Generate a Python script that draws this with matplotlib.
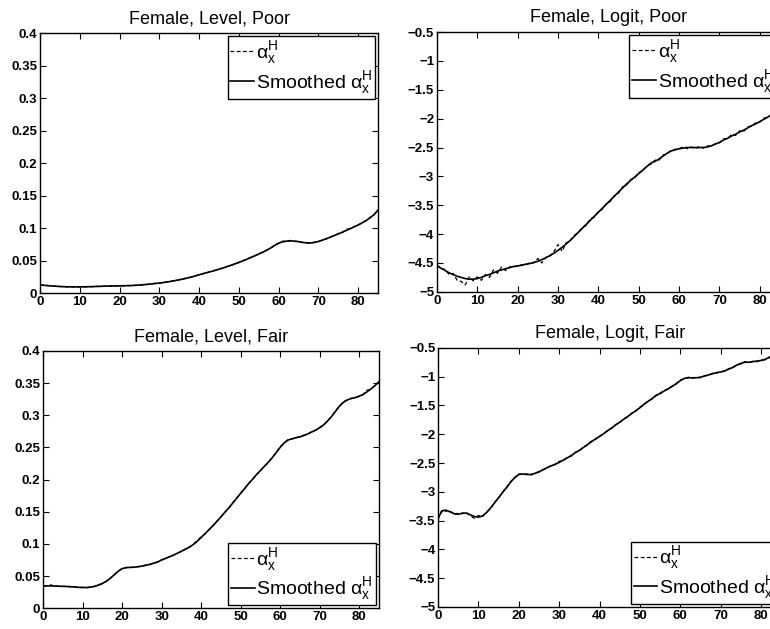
#!/usr/bin/env python3
"""
Raw vs smoothed alpha_x^H by age, female, level/logit, poor/fair health
"""

import matplotlib

matplotlib.use("Agg")
import matplotlib.pyplot as plt
from matplotlib.ticker import FuncFormatter, MultipleLocator

plt.rcParams["font.family"] = ["Liberation Sans", "DejaVu Sans"]
plt.rcParams["mathtext.fontset"] = "custom"
plt.rcParams["mathtext.rm"] = "Liberation Sans"
plt.rcParams["mathtext.it"] = "Liberation Sans:italic"

ages = list(range(0, 86))

# ---- Female, Level, Poor ----
level_poor_smooth = [
    0.0125, 0.0120, 0.0115, 0.0110, 0.0106, 0.0102, 0.0099, 0.0097, 0.0096, 0.0096,
    0.0096, 0.0097, 0.0098, 0.0100, 0.0102, 0.0104, 0.0106, 0.0108, 0.0110, 0.0111,
    0.0112, 0.0113, 0.0115, 0.0117, 0.0120, 0.0124, 0.0129, 0.0135, 0.0141, 0.0148,
    0.0155, 0.0163, 0.0172, 0.0182, 0.0193, 0.0205, 0.0218, 0.0232, 0.0247, 0.0264,
    0.0282, 0.0299, 0.0316, 0.0333, 0.0350, 0.0368, 0.0387, 0.0407, 0.0428, 0.0450,
    0.0473, 0.0497, 0.0522, 0.0548, 0.0575, 0.0602, 0.0630, 0.0660, 0.0695, 0.0735,
    0.0770, 0.0790, 0.0800, 0.0805, 0.0800, 0.0792, 0.0782, 0.0774, 0.0772, 0.0780,
    0.0795, 0.0815, 0.0838, 0.0862, 0.0887, 0.0912, 0.0938, 0.0965, 0.0992, 0.1020,
    0.1050, 0.1082, 0.1118, 0.1160, 0.1210, 0.1280,
]
level_poor_raw = [
    0.0128, 0.0119, 0.0116, 0.0109, 0.0107, 0.0101, 0.0100, 0.0096, 0.0097, 0.0095,
    0.0097, 0.0096, 0.0099, 0.0099, 0.0103, 0.0103, 0.0108, 0.0107, 0.0111, 0.0110,
    0.0113, 0.0112, 0.0116, 0.0116, 0.0121, 0.0123, 0.0130, 0.0134, 0.0143, 0.0152,
    0.0153, 0.0165, 0.0170, 0.0184, 0.0191, 0.0207, 0.0216, 0.0235, 0.0245, 0.0266,
    0.0280, 0.0302, 0.0314, 0.0336, 0.0348, 0.0370, 0.0385, 0.0410, 0.0426, 0.0452,
    0.0471, 0.0500, 0.0520, 0.0551, 0.0573, 0.0605, 0.0628, 0.0664, 0.0692, 0.0740,
    0.0765, 0.0800, 0.0795, 0.0812, 0.0796, 0.0798, 0.0778, 0.0777, 0.0769, 0.0784,
    0.0792, 0.0820, 0.0835, 0.0866, 0.0884, 0.0920, 0.0930, 0.0985, 0.0988, 0.1025,
    0.1046, 0.1088, 0.1114, 0.1166, 0.1206, 0.1285,
]

# ---- Female, Logit, Poor ----
logit_poor_smooth = [
    -4.55, -4.59, -4.63, -4.67, -4.70, -4.73, -4.75, -4.77, -4.78, -4.78,
    -4.77, -4.75, -4.72, -4.70, -4.67, -4.64, -4.62, -4.60, -4.58, -4.56,
    -4.55, -4.54, -4.52, -4.51, -4.49, -4.47, -4.44, -4.41, -4.37, -4.33,
    -4.28, -4.23, -4.17, -4.11, -4.04, -3.97, -3.90, -3.83, -3.76, -3.69,
    -3.62, -3.55, -3.48, -3.41, -3.34, -3.27, -3.20, -3.13, -3.07, -3.01,
    -2.95, -2.89, -2.83, -2.77, -2.74, -2.70, -2.65, -2.60, -2.56, -2.54,
    -2.52, -2.51, -2.50, -2.50, -2.50, -2.50, -2.50, -2.49, -2.47, -2.44,
    -2.41, -2.37, -2.34, -2.30, -2.27, -2.23, -2.20, -2.16, -2.12, -2.09,
    -2.05, -2.01, -1.97, -1.93, -1.89, -1.85,
]
logit_poor_raw = [
    -4.53, -4.60, -4.61, -4.70, -4.68, -4.80, -4.82, -4.88, -4.74, -4.81,
    -4.74, -4.80, -4.70, -4.75, -4.62, -4.68, -4.57, -4.63, -4.57, -4.57,
    -4.55, -4.53, -4.54, -4.49, -4.50, -4.42, -4.50, -4.40, -4.38, -4.30,
    -4.18, -4.30, -4.15, -4.12, -4.02, -3.98, -3.88, -3.85, -3.73, -3.71,
    -3.60, -3.57, -3.47, -3.43, -3.33, -3.29, -3.18, -3.15, -3.05, -3.03,
    -2.93, -2.91, -2.81, -2.79, -2.72, -2.72, -2.63, -2.61, -2.55, -2.53,
    -2.53, -2.48, -2.52, -2.49, -2.52, -2.48, -2.51, -2.47, -2.48, -2.43,
    -2.42, -2.35, -2.35, -2.27, -2.29, -2.21, -2.22, -2.14, -2.13, -2.07,
    -2.06, -1.99, -1.98, -1.91, -1.90, -1.86,
]

# ---- Female, Level, Fair ----
level_fair_smooth = [
    0.0345, 0.0348, 0.0347, 0.0345, 0.0342, 0.0340, 0.0338, 0.0335, 0.0330, 0.0325,
    0.0322, 0.0322, 0.0328, 0.0340, 0.0360, 0.0385, 0.0420, 0.0465, 0.0520, 0.0575,
    0.0615, 0.0632, 0.0635, 0.0638, 0.0645, 0.0655, 0.0668, 0.0682, 0.0700, 0.0720,
    0.0750, 0.0775, 0.0800, 0.0827, 0.0855, 0.0885, 0.0917, 0.0950, 0.0990, 0.1040,
    0.1100, 0.1160, 0.1220, 0.1285, 0.1350, 0.1420, 0.1490, 0.1560, 0.1635, 0.1710,
    0.1785, 0.1860, 0.1935, 0.2005, 0.2075, 0.2140, 0.2205, 0.2270, 0.2340, 0.2420,
    0.2500, 0.2570, 0.2615, 0.2635, 0.2650, 0.2665, 0.2685, 0.2710, 0.2740, 0.2770,
    0.2805, 0.2850, 0.2910, 0.2980, 0.3060, 0.3140, 0.3200, 0.3240, 0.3260, 0.3275,
    0.3295, 0.3325, 0.3365, 0.3410, 0.3460, 0.3520,
]
level_fair_raw = [
    0.0350, 0.0352, 0.0362, 0.0343, 0.0345, 0.0339, 0.0344, 0.0333, 0.0332, 0.0322,
    0.0325, 0.0319, 0.0330, 0.0338, 0.0362, 0.0383, 0.0418, 0.0468, 0.0517, 0.0578,
    0.0618, 0.0630, 0.0638, 0.0634, 0.0648, 0.0652, 0.0671, 0.0679, 0.0705, 0.0716,
    0.0755, 0.0771, 0.0804, 0.0822, 0.0860, 0.0880, 0.0921, 0.0946, 0.0994, 0.1048,
    0.1110, 0.1155, 0.1225, 0.1280, 0.1354, 0.1415, 0.1494, 0.1556, 0.1638, 0.1706,
    0.1790, 0.1855, 0.1940, 0.2000, 0.2080, 0.2135, 0.2210, 0.2262, 0.2348, 0.2415,
    0.2510, 0.2564, 0.2622, 0.2630, 0.2656, 0.2660, 0.2691, 0.2705, 0.2748, 0.2765,
    0.2812, 0.2845, 0.2918, 0.2974, 0.3068, 0.3134, 0.3212, 0.3236, 0.3265, 0.3270,
    0.3300, 0.3318, 0.3390, 0.3405, 0.3465, 0.3515,
]

# ---- Female, Logit, Fair ----
logit_fair_smooth = [
    -3.45, -3.33, -3.32, -3.35, -3.38, -3.39, -3.37, -3.37, -3.40, -3.43,
    -3.44, -3.42, -3.36, -3.28, -3.19, -3.10, -3.01, -2.92, -2.83, -2.75,
    -2.70, -2.69, -2.70, -2.70, -2.68, -2.65, -2.62, -2.58, -2.55, -2.52,
    -2.49, -2.45, -2.41, -2.37, -2.32, -2.28, -2.23, -2.18, -2.13, -2.08,
    -2.04, -1.99, -1.94, -1.89, -1.84, -1.79, -1.74, -1.69, -1.64, -1.59,
    -1.54, -1.48, -1.43, -1.38, -1.33, -1.29, -1.25, -1.21, -1.17, -1.12,
    -1.07, -1.03, -1.02, -1.02, -1.02, -1.01, -0.99, -0.97, -0.95, -0.93,
    -0.92, -0.90, -0.87, -0.84, -0.80, -0.77, -0.75, -0.75, -0.74, -0.73,
    -0.72, -0.70, -0.67, -0.64, -0.61, -0.59,
]
logit_fair_raw = [
    -3.48, -3.30, -3.34, -3.34, -3.39, -3.37, -3.38, -3.36, -3.42, -3.46,
    -3.41, -3.43, -3.35, -3.29, -3.18, -3.11, -3.00, -2.93, -2.82, -2.76,
    -2.69, -2.70, -2.69, -2.71, -2.67, -2.66, -2.61, -2.59, -2.54, -2.53,
    -2.47, -2.46, -2.40, -2.38, -2.31, -2.29, -2.22, -2.19, -2.12, -2.09,
    -2.03, -2.00, -1.93, -1.90, -1.83, -1.80, -1.73, -1.70, -1.63, -1.60,
    -1.53, -1.49, -1.42, -1.39, -1.32, -1.30, -1.24, -1.22, -1.16, -1.13,
    -1.06, -1.04, -1.01, -1.03, -1.01, -1.02, -0.98, -0.98, -0.94, -0.94,
    -0.91, -0.91, -0.86, -0.85, -0.79, -0.78, -0.74, -0.76, -0.73, -0.74,
    -0.71, -0.71, -0.66, -0.65, -0.60, -0.60,
]

titles = [
    "Female, Level, Poor",
    "Female, Logit, Poor",
    "Female, Level, Fair",
    "Female, Logit, Fair",
]

raw_label = r"$\mathregular{\alpha_x^H}$"
smooth_label = r"Smoothed $\mathregular{\alpha_x^H}$"


def tick_fmt(v, pos):
    s = "%g" % round(v, 3)
    return s.replace("-", "\u2212")


def style_axes(ax, ylim, ystep):
    ax.set_xlim(0, 85)
    ax.set_ylim(*ylim)
    ax.xaxis.set_major_locator(MultipleLocator(10))
    ax.yaxis.set_major_locator(MultipleLocator(ystep))
    ax.yaxis.set_major_formatter(FuncFormatter(tick_fmt))
    ax.xaxis.set_major_formatter(FuncFormatter(tick_fmt))
    ax.tick_params(direction="in", top=True, right=True, length=4, width=0.8,
                   labelsize=9.5, pad=2)
    for lab in ax.get_xticklabels() + ax.get_yticklabels():
        lab.set_fontweight("bold")
    for sp in ax.spines.values():
        sp.set_linewidth(1.0)


def draw_panel(ax, raw, smooth, title, ylim, ystep, legend_loc):
    ax.plot(ages, raw, "k--", lw=0.9, dashes=(3, 2), label=raw_label)
    ax.plot(ages, smooth, "k-", lw=1.2, label=smooth_label)
    ax.set_title(title, fontsize=13, pad=7)
    style_axes(ax, ylim, ystep)
    leg = ax.legend(loc=legend_loc, fontsize=14, fancybox=False, framealpha=1,
                    edgecolor="black", handlelength=1.2, handletextpad=0.1,
                    borderpad=0.15, labelspacing=0.15, borderaxespad=0.15)
    leg.get_frame().set_linewidth(1.0)


fig = plt.figure(figsize=(7.7, 6.29), dpi=100)

# axes positions in figure fraction (right column runs past the figure edge)
ax1 = fig.add_axes([0.052, 0.534, 0.439, 0.413])
ax2 = fig.add_axes([0.5675, 0.536, 0.4455, 0.413])
ax3 = fig.add_axes([0.056, 0.033, 0.436, 0.409])
ax4 = fig.add_axes([0.569, 0.035, 0.4455, 0.412])

draw_panel(ax1, level_poor_raw, level_poor_smooth, titles[0], (0, 0.4), 0.05, "upper right")
draw_panel(ax2, logit_poor_raw, logit_poor_smooth, titles[1], (-5, -0.5), 0.5, "upper right")
draw_panel(ax3, level_fair_raw, level_fair_smooth, titles[2], (0, 0.4), 0.05, "lower right")
draw_panel(ax4, logit_fair_raw, logit_fair_smooth, titles[3], (-5, -0.5), 0.5, "lower right")

plt.savefig("out.png", dpi=100)
print("Plot saved to out.png")
